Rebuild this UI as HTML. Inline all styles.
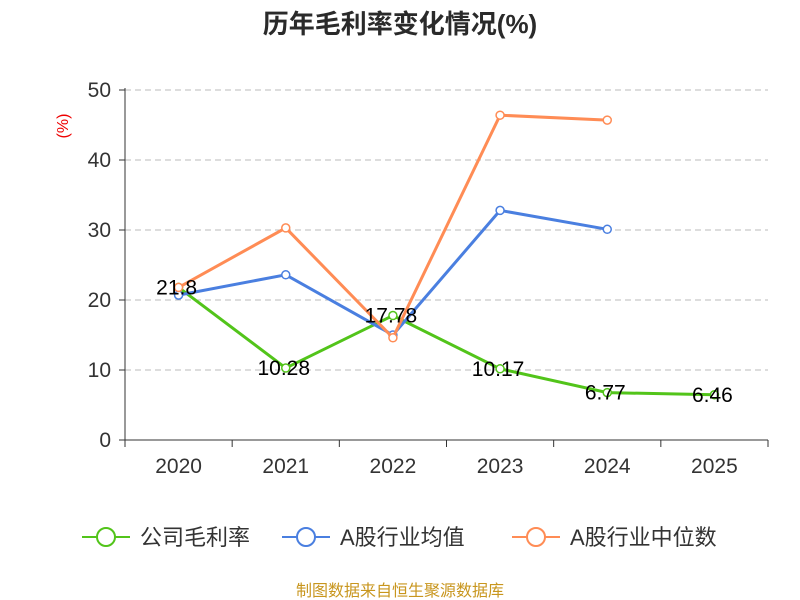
<!DOCTYPE html>
<html><head><meta charset="utf-8"><style>
body{margin:0;background:#fff;}
svg{display:block;font-family:"Liberation Sans","Noto Sans CJK SC",sans-serif;}
</style></head><body>
<svg id="chart" width="800" height="600">
<text x="400" y="33" text-anchor="middle" font-size="26" font-weight="bold" fill="#2a2a2a">历年毛利率变化情况(%)</text>
<text x="68" y="126" text-anchor="middle" font-size="16" fill="#e00" transform="rotate(-90 68 126)">(%)</text>
<g id="grid"></g><g id="axes"></g><g id="series"></g>
<g>
<g><line x1="82" y1="537" x2="130" y2="537" stroke="#52c41a" stroke-width="2"/><circle cx="106" cy="537" r="9" fill="#fff" stroke="#52c41a" stroke-width="2"/><text x="140" y="545" font-size="22" fill="#333">公司毛利率</text></g>
<g><line x1="282" y1="537" x2="330" y2="537" stroke="#4a7fe0" stroke-width="2"/><circle cx="306" cy="537" r="9" fill="#fff" stroke="#4a7fe0" stroke-width="2"/><text x="340" y="545" font-size="22" fill="#333">A股行业均值</text></g>
<g><line x1="512" y1="537" x2="560" y2="537" stroke="#ff8c55" stroke-width="2"/><circle cx="536" cy="537" r="9" fill="#fff" stroke="#ff8c55" stroke-width="2"/><text x="570" y="545" font-size="22" fill="#333">A股行业中位数</text></g>
</g>
<text x="400" y="596" text-anchor="middle" font-size="16" fill="#c8961e">制图数据来自恒生聚源数据库</text>
</svg>
<script>
const categories=["2020","2021","2022","2023","2024","2025"];
const companyValues=[21.8,10.28,17.78,10.17,6.77,6.46];
const meanValues=[20.7,23.6,15.0,32.8,30.1,null];
const medianValues=[21.8,30.3,14.6,46.4,45.7,null];
const yTicks=[0,10,20,30,40,50];
const NS="http://www.w3.org/2000/svg";
const x0=125,x1=768,yTop=90,yBot=440,yMax=50;
const bw=(x1-x0)/categories.length;
const xs=i=>x0+bw*(i+0.5);
const ys=v=>yBot-(v/yMax)*(yBot-yTop);
function mk(p,tag,attrs,txt){const e=document.createElementNS(NS,tag);for(const k in attrs)e.setAttribute(k,attrs[k]);if(txt!=null)e.textContent=txt;p.appendChild(e);return e;}
const grid=document.getElementById('grid'),axes=document.getElementById('axes'),ser=document.getElementById('series');
yTicks.forEach(t=>{
 const y=ys(t);
 if(t>0){const g=mk(grid,'line',{x1:x0,x2:x1,y1:y,y2:y,stroke:'#bbb','stroke-dasharray':'6,4'});
 
 }
 const tk=mk(axes,'line',{x1:x0-6,x2:x0,y1:y,y2:y,stroke:'#333'});
 
 
 const lb=mk(axes,'text',{x:x0-14,y:y+7,'text-anchor':'end','font-size':21,fill:'#333'},t);
 
 
});
const ya=mk(axes,'line',{x1:x0,x2:x0,y1:yTop-2,y2:yBot,stroke:'#333'});


const xa=mk(axes,'line',{x1:x0,x2:x1,y1:yBot,y2:yBot,stroke:'#333'});


for(let i=0;i<=categories.length;i++){const t=mk(axes,'line',{x1:x0+bw*i,x2:x0+bw*i,y1:yBot,y2:yBot+7,stroke:'#333'});
 
 }
categories.forEach((c,i)=>{const l=mk(axes,'text',{x:xs(i),y:yBot+33,'text-anchor':'middle','font-size':21,fill:'#333'},c);
 
 });
function drawSeries(vals,color,name){
 const pts=vals.map((v,i)=>v==null?null:[xs(i),ys(v)]).filter(p=>p);
 const pl=mk(ser,'polyline',{points:pts.map(p=>p.join(',')).join(' '),fill:'none',stroke:color,'stroke-width':3});
 
 
 vals.forEach((v,i)=>{if(v==null)return;
  const c=mk(ser,'circle',{cx:xs(i),cy:ys(v),r:4,fill:'#fff',stroke:color,'stroke-width':1.5});
  
  
 });
}
drawSeries(companyValues,'#52c41a','company');
drawSeries(meanValues,'#4a7fe0','industry-mean');
drawSeries(medianValues,'#ff8c55','industry-median');
companyValues.forEach((v,i)=>{const t=mk(ser,'text',{x:xs(i)-2,y:ys(v)+7,'text-anchor':'middle','font-size':21,fill:'#000'},v);
 
 });
</script>
</body></html>
